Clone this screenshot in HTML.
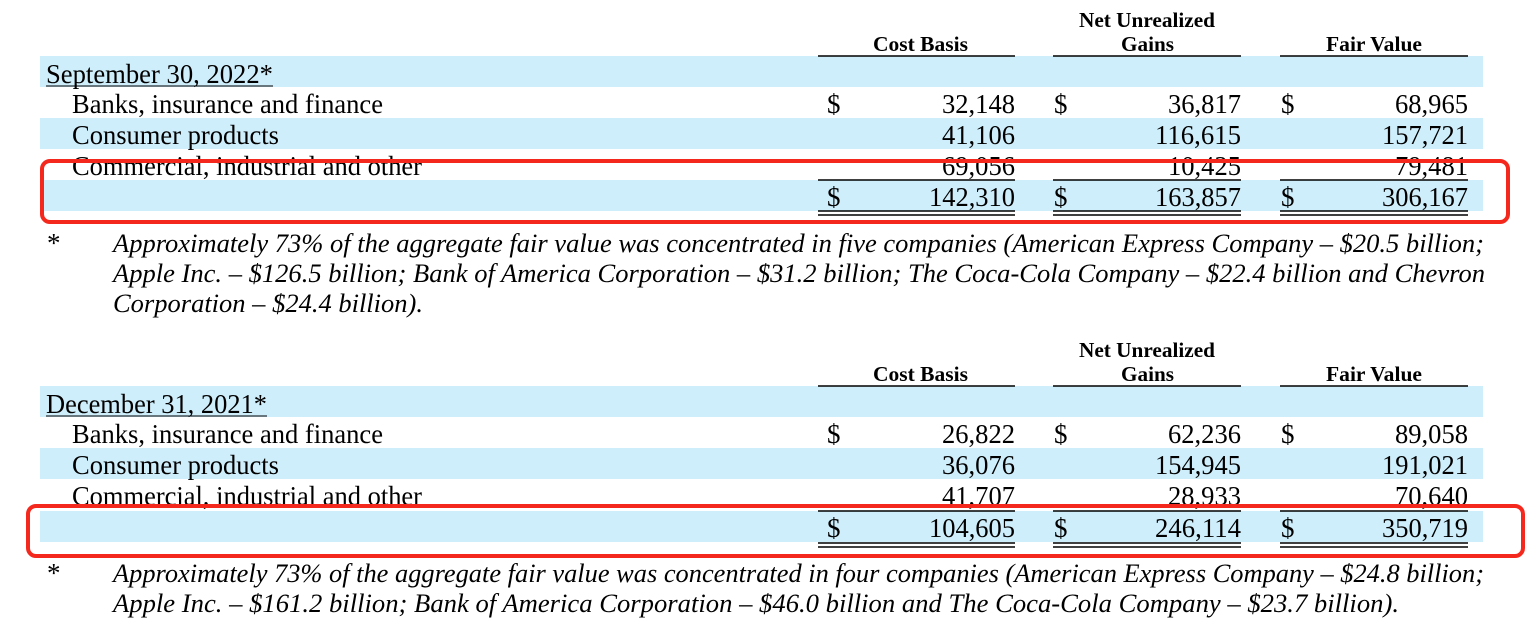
<!DOCTYPE html>
<html><head><meta charset="utf-8"><style>
html,body{margin:0;padding:0;background:#fff;width:1537px;height:630px;overflow:hidden}
svg{display:block}
text{font-family:"Liberation Serif",serif;fill:#000}
.r{font-size:27px}
.h{font-size:21px;font-weight:bold}
.i{font-size:26px;font-style:italic}
</style></head><body>
<svg width="1537" height="630" viewBox="0 0 1537 630" xmlns="http://www.w3.org/2000/svg">
<g id="t1">
<rect x="40" y="56" width="1443" height="31" fill="#cfeefb"/>
<rect x="40" y="118" width="1443" height="31" fill="#cfeefb"/>
<rect x="40" y="180" width="1443" height="31" fill="#cfeefb"/>
<text class="h" x="873" y="51" textLength="95" lengthAdjust="spacingAndGlyphs">Cost Basis</text>
<text class="h" x="1079" y="27" textLength="136" lengthAdjust="spacingAndGlyphs">Net Unrealized</text>
<text class="h" x="1121" y="51" textLength="53" lengthAdjust="spacingAndGlyphs">Gains</text>
<text class="h" x="1326" y="51" textLength="96" lengthAdjust="spacingAndGlyphs">Fair Value</text>
<g stroke="#000" stroke-width="1.5">
<line x1="818" y1="56" x2="1015" y2="56"/><line x1="1053" y1="56" x2="1241" y2="56"/><line x1="1280" y1="56" x2="1468" y2="56"/>
<line x1="818" y1="180" x2="1015" y2="180"/><line x1="1053" y1="180" x2="1241" y2="180"/><line x1="1280" y1="180" x2="1468" y2="180"/>
<line x1="818" y1="211" x2="1015" y2="211"/><line x1="1053" y1="211" x2="1241" y2="211"/><line x1="1280" y1="211" x2="1468" y2="211"/>
<line x1="818" y1="215" x2="1015" y2="215"/><line x1="1053" y1="215" x2="1241" y2="215"/><line x1="1280" y1="215" x2="1468" y2="215"/>
<line x1="46" y1="86" x2="273" y2="86" stroke-width="1"/>
</g>
<text class="r" x="46" y="83" textLength="227" lengthAdjust="spacingAndGlyphs">September 30, 2022*</text>
<text class="r" x="72" y="113" textLength="311" lengthAdjust="spacingAndGlyphs">Banks, insurance and finance</text>
<text class="r" x="72" y="144" textLength="207" lengthAdjust="spacingAndGlyphs">Consumer products</text>
<text class="r" x="72" y="175" textLength="350" lengthAdjust="spacingAndGlyphs">Commercial, industrial and other</text>
<text class="r" x="827" y="113">$</text><text class="r" x="1054" y="113">$</text><text class="r" x="1281" y="113">$</text>
<text class="r" x="827" y="206">$</text><text class="r" x="1054" y="206">$</text><text class="r" x="1281" y="206">$</text>
<g text-anchor="end">
<text class="r" x="1015" y="113" textLength="73" lengthAdjust="spacingAndGlyphs">32,148</text><text class="r" x="1241" y="113" textLength="73" lengthAdjust="spacingAndGlyphs">36,817</text><text class="r" x="1468" y="113" textLength="73" lengthAdjust="spacingAndGlyphs">68,965</text>
<text class="r" x="1015" y="144" textLength="73" lengthAdjust="spacingAndGlyphs">41,106</text><text class="r" x="1241" y="144" textLength="86" lengthAdjust="spacingAndGlyphs">116,615</text><text class="r" x="1468" y="144" textLength="86" lengthAdjust="spacingAndGlyphs">157,721</text>
<text class="r" x="1015" y="175" textLength="73" lengthAdjust="spacingAndGlyphs">69,056</text><text class="r" x="1241" y="175" textLength="73" lengthAdjust="spacingAndGlyphs">10,425</text><text class="r" x="1468" y="175" textLength="73" lengthAdjust="spacingAndGlyphs">79,481</text>
<text class="r" x="1015" y="206" textLength="86" lengthAdjust="spacingAndGlyphs">142,310</text><text class="r" x="1241" y="206" textLength="86" lengthAdjust="spacingAndGlyphs">163,857</text><text class="r" x="1468" y="206" textLength="86" lengthAdjust="spacingAndGlyphs">306,167</text>
</g>
<rect x="42" y="161" width="1466" height="61" rx="8" fill="none" stroke="#f5281e" stroke-width="4"/>
<text class="r" x="47" y="252" font-size="24">*</text>
<text class="i" x="113" y="252" textLength="1371" lengthAdjust="spacingAndGlyphs">Approximately 73% of the aggregate fair value was concentrated in five companies (American Express Company – $20.5 billion;</text>
<text class="i" x="113" y="282" textLength="1372" lengthAdjust="spacingAndGlyphs">Apple Inc. – $126.5 billion; Bank of America Corporation – $31.2 billion; The Coca-Cola Company – $22.4 billion and Chevron</text>
<text class="i" x="113" y="312" textLength="310" lengthAdjust="spacingAndGlyphs">Corporation – $24.4 billion).</text>
</g>
<g transform="translate(0,330)">
<rect x="40" y="56" width="1443" height="31" fill="#cfeefb"/>
<rect x="40" y="118" width="1443" height="31" fill="#cfeefb"/>
<rect x="40" y="181" width="1443" height="31" fill="#cfeefb"/>
<text class="h" x="873" y="51" textLength="95" lengthAdjust="spacingAndGlyphs">Cost Basis</text>
<text class="h" x="1079" y="27" textLength="136" lengthAdjust="spacingAndGlyphs">Net Unrealized</text>
<text class="h" x="1121" y="51" textLength="53" lengthAdjust="spacingAndGlyphs">Gains</text>
<text class="h" x="1326" y="51" textLength="96" lengthAdjust="spacingAndGlyphs">Fair Value</text>
<g stroke="#000" stroke-width="1.5">
<line x1="818" y1="56" x2="1015" y2="56"/><line x1="1053" y1="56" x2="1241" y2="56"/><line x1="1280" y1="56" x2="1468" y2="56"/>
<line x1="818" y1="181" x2="1015" y2="181"/><line x1="1053" y1="181" x2="1241" y2="181"/><line x1="1280" y1="181" x2="1468" y2="181"/>
<line x1="818" y1="213" x2="1015" y2="213"/><line x1="1053" y1="213" x2="1241" y2="213"/><line x1="1280" y1="213" x2="1468" y2="213"/>
<line x1="818" y1="217" x2="1015" y2="217"/><line x1="1053" y1="217" x2="1241" y2="217"/><line x1="1280" y1="217" x2="1468" y2="217"/>
<line x1="46" y1="86" x2="267" y2="86" stroke-width="1"/>
</g>
<text class="r" x="46" y="83" textLength="221" lengthAdjust="spacingAndGlyphs">December 31, 2021*</text>
<text class="r" x="72" y="113" textLength="311" lengthAdjust="spacingAndGlyphs">Banks, insurance and finance</text>
<text class="r" x="72" y="144" textLength="207" lengthAdjust="spacingAndGlyphs">Consumer products</text>
<text class="r" x="72" y="175" textLength="350" lengthAdjust="spacingAndGlyphs">Commercial, industrial and other</text>
<text class="r" x="827" y="113">$</text><text class="r" x="1054" y="113">$</text><text class="r" x="1281" y="113">$</text>
<text class="r" x="827" y="207">$</text><text class="r" x="1054" y="207">$</text><text class="r" x="1281" y="207">$</text>
<g text-anchor="end">
<text class="r" x="1015" y="113" textLength="73" lengthAdjust="spacingAndGlyphs">26,822</text><text class="r" x="1241" y="113" textLength="73" lengthAdjust="spacingAndGlyphs">62,236</text><text class="r" x="1468" y="113" textLength="73" lengthAdjust="spacingAndGlyphs">89,058</text>
<text class="r" x="1015" y="144" textLength="73" lengthAdjust="spacingAndGlyphs">36,076</text><text class="r" x="1241" y="144" textLength="86" lengthAdjust="spacingAndGlyphs">154,945</text><text class="r" x="1468" y="144" textLength="86" lengthAdjust="spacingAndGlyphs">191,021</text>
<text class="r" x="1015" y="175" textLength="73" lengthAdjust="spacingAndGlyphs">41,707</text><text class="r" x="1241" y="175" textLength="73" lengthAdjust="spacingAndGlyphs">28,933</text><text class="r" x="1468" y="175" textLength="73" lengthAdjust="spacingAndGlyphs">70,640</text>
<text class="r" x="1015" y="207" textLength="86" lengthAdjust="spacingAndGlyphs">104,605</text><text class="r" x="1241" y="207" textLength="86" lengthAdjust="spacingAndGlyphs">246,114</text><text class="r" x="1468" y="207" textLength="86" lengthAdjust="spacingAndGlyphs">350,719</text>
</g>
<rect x="28" y="176" width="1495" height="50" rx="8" fill="none" stroke="#f5281e" stroke-width="4"/>
<text class="r" x="47" y="252" font-size="24">*</text>
<text class="i" x="113" y="252" textLength="1371" lengthAdjust="spacingAndGlyphs">Approximately 73% of the aggregate fair value was concentrated in four companies (American Express Company – $24.8 billion;</text>
<text class="i" x="113" y="282" textLength="1286" lengthAdjust="spacingAndGlyphs">Apple Inc. – $161.2 billion; Bank of America Corporation – $46.0 billion and The Coca-Cola Company – $23.7 billion).</text>
</g>
</svg>
</body></html>
